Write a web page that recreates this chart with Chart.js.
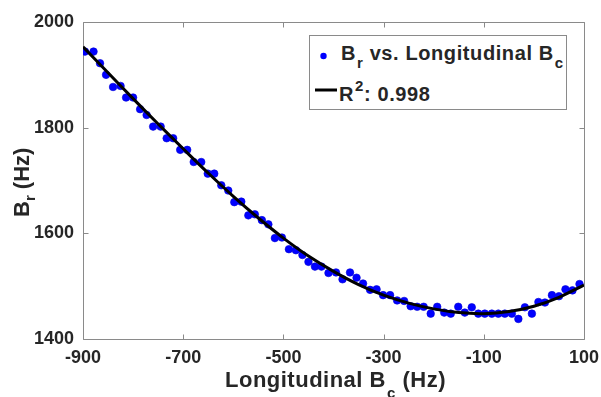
<!DOCTYPE html>
<html><head><meta charset="utf-8">
<script src="https://cdn.jsdelivr.net/npm/chart.js@4.4.0/dist/chart.umd.min.js"></script>
<style>
html,body{margin:0;padding:0;background:#fff;}
#wrap{position:relative;width:601px;height:397px;overflow:hidden;background:#fff;}
#c{position:absolute;left:0;top:0;}
.t{position:absolute;font-family:"Liberation Sans",Arial,sans-serif;font-weight:bold;color:#262626;white-space:nowrap;}
.sub{position:relative;font-size:15px;}
#ytitle{transform-origin:0 0;transform:rotate(-90deg);}
#legend{position:absolute;left:309px;top:35px;width:256px;height:73px;border:1px solid #8a8a8a;background:#fff;}
</style></head>
<body>
<div id="wrap">
<canvas id="c" width="601" height="397"></canvas>
<div id="legend"></div>
<div class="t" id="ytitle" style="left:11px;top:217px;font-size:22px;line-height:22px;">B<span class="sub" style="top:6px">r</span> (Hz)</div>
<div class="t" id="xtitle" style="left:225px;top:369px;font-size:22px;line-height:22px;letter-spacing:0.5px;">Longitudinal B<span class="sub" style="top:11px;margin-left:1px">c</span> (Hz)</div>
<div class="t" style="left:341px;top:43px;font-size:20px;line-height:20px;letter-spacing:0.6px;">B<span class="sub" style="top:8px;margin-left:1px">r</span> vs. Longitudinal B<span class="sub" style="top:8px;margin-left:1px">c</span></div>
<div class="t" style="left:339px;top:84px;font-size:20px;line-height:20px;letter-spacing:0.6px;">R<span class="sub" style="top:-10px;font-size:15px;margin-left:1px">2</span>: 0.998</div>
<svg style="position:absolute;left:0;top:0" width="601" height="397">
<circle cx="323.5" cy="56" r="3.2" fill="#0000ff"/>
<line x1="315" y1="90" x2="337" y2="90" stroke="#000" stroke-width="3"/>
</svg>
</div>
<script>
// Measured data: longitudinal Bc (Hz) and Br (Hz)
const bcValues = [-896,-879,-866,-854,-840,-825,-814,-800,-786,-773,-760,-745,-733,-720,-706,-692,-679,-664,-651,-638,-624,-610,-598,-584,-570,-557,-543,-530,-517,-503,-489,-475,-462,-450,-437,-424,-410,-395,-382,-367,-354,-341,-327,-314,-301,-287,-273,-259,-246,-233,-220,-206,-193,-179,-166,-151,-138,-124,-111,-98,-84,-71,-58,-44,-31,-18,-4,9,22,36,50,63,77,91];
const brValues = [1944,1944,1922,1900,1877,1879,1857,1857,1835,1824,1802,1802,1780,1780,1758,1758,1735,1735,1713,1713,1691,1681,1659,1660,1634,1636,1625,1617,1591,1592,1570,1568,1559,1546,1537,1537,1525,1526,1513,1526,1516,1505,1493,1494,1483,1483,1473,1472,1462,1461,1461,1448,1461,1450,1448,1461,1450,1460,1448,1448,1448,1448,1448,1448,1438,1460,1448,1470,1469,1483,1481,1494,1492,1504];
// Fitted curve (R^2 = 0.998)
const fitBc = [-900,-850,-800,-750,-700,-650,-600,-550,-500,-450,-400,-350,-300,-250,-200,-150,-100,-50,0,50,100];
const fitBr = [1953,1904,1855,1807,1760,1714,1670,1629,1591,1557,1528,1503,1483,1468,1457,1450,1448,1452,1462,1479,1502];
const xTicks = [-900,-700,-500,-300,-100,100];
const yTicks = [1400,1600,1800,2000];

const framePlugin = {
  id:'frame',
  beforeDatasetsDraw(chart){
    const {ctx, chartArea:a, scales:{x,y}} = chart;
    ctx.save();
    ctx.strokeStyle = '#8a8a8a';
    ctx.lineWidth = 1;
    const L = Math.round(a.left)+0.5, R = Math.round(a.right)+0.5, T = Math.round(a.top)+0.5, B = Math.round(a.bottom)+0.5;
    ctx.beginPath();
    ctx.rect(L, T, R-L, B-T);
    const tl = 5;
    xTicks.forEach(v => {
      const px = Math.round(x.getPixelForValue(v))+0.5;
      ctx.moveTo(px,B); ctx.lineTo(px,B-tl);
      ctx.moveTo(px,T); ctx.lineTo(px,T+tl);
    });
    yTicks.forEach(v => {
      const py = Math.round(y.getPixelForValue(v))+0.5;
      ctx.moveTo(L,py); ctx.lineTo(L+tl,py);
      ctx.moveTo(R,py); ctx.lineTo(R-tl,py);
    });
    ctx.stroke();
    ctx.restore();
  }
};

const tickFont = {family:'"Liberation Sans", Arial, sans-serif', size:18, weight:'bold'};

new Chart(document.getElementById('c'), {
  type:'scatter',
  data:{
    datasets:[
      {
        label:'R²: 0.998',
        data: fitBc.map((v,i)=>({x:v,y:fitBr[i]})),
        showLine:true,
        borderColor:'#000000',
        borderWidth:3,
        pointRadius:0,
        tension:0.4,
        order:0
      },
      {
        label:'Br vs. Longitudinal Bc',
        data: bcValues.map((v,i)=>({x:v,y:brValues[i]})),
        backgroundColor:'#0000ff',
        borderColor:'#0000d8',
        borderWidth:0.6,
        pointRadius:3.8,
        order:1
      }
    ]
  },
  options:{
    responsive:false,
    animation:false,
    devicePixelRatio:1,
    layout:{padding:{left:0,right:17,top:22,bottom:0}},
    plugins:{legend:{display:false},tooltip:{enabled:false}},
    scales:{
      x:{
        type:'linear', min:-900, max:100,
        afterBuildTicks: s => { s.ticks = xTicks.map(v=>({value:v})); },
        afterFit: s => { s.height = 58; s.paddingLeft = 0; s.paddingRight = 0; },
        grid:{display:false, drawTicks:false},
        border:{display:false},
        ticks:{font:tickFont, color:'#262626', padding:8, maxRotation:0, callback: v => String(v)}
      },
      y:{
        type:'linear', min:1400, max:2000,
        afterBuildTicks: s => { s.ticks = yTicks.map(v=>({value:v})); },
        afterFit: s => { s.width = 83; s.paddingTop = 0; s.paddingBottom = 0; },
        grid:{display:false, drawTicks:false},
        border:{display:false},
        ticks:{font:tickFont, color:'#262626', padding:9, callback: v => String(v)}
      }
    }
  },
  plugins:[framePlugin]
});
</script>
</body></html>
